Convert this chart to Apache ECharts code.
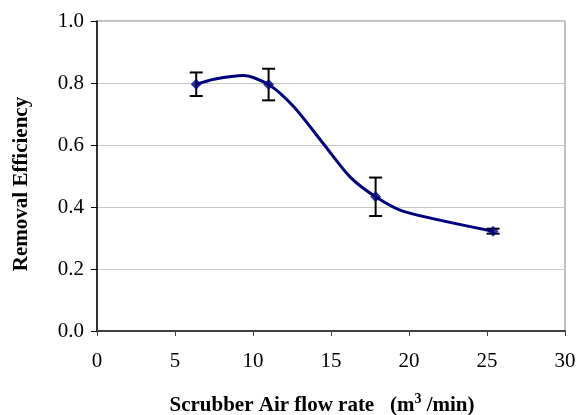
<!DOCTYPE html>
<html>
<head>
<meta charset="utf-8">
<script src="https://cdn.jsdelivr.net/npm/echarts@6/dist/echarts.min.js"></script>
<style>html,body{margin:0;padding:0;background:#fff;}#c{width:584px;height:415px;}</style>
</head>
<body>
<div id="c"></div>
<script>
// Measured points with error bars
const measX = [6.36, 11.0, 17.86, 25.39];
const measY = [0.796, 0.795, 0.433, 0.322];
const measErr = [0.038, 0.051, 0.062, 0.008];
// Curve drawn through the data
const curveX = [6.36, 7.5, 9.4, 11.0, 12.6, 14.5, 16.2, 17.86, 19.65, 25.39];
const curveY = [0.796, 0.812, 0.824, 0.795, 0.724, 0.605, 0.498, 0.433, 0.386, 0.322];
// Axis ticks
const xTicks = {min: 0, max: 30, interval: 5};
const yTicks = {min: 0, max: 1, interval: 0.2};

const font = '"Liberation Serif", "Times New Roman", serif';
const chart = echarts.init(document.getElementById('c'));
chart.setOption({
  animation: false,
  grid: {left: 97, right: 19, top: 21, bottom: 84, show: true, borderColor: '#808080', borderWidth: 1,
         containLabel: false, outerBoundsMode: 'none'},
  xAxis: {
    type: 'value', min: xTicks.min, max: xTicks.max, interval: xTicks.interval,
    axisLine: {show: true, onZero: false, lineStyle: {color: '#404040', width: 2}},
    axisTick: {show: true, length: 5, lineStyle: {color: '#404040', width: 1}},
    axisLabel: {fontFamily: font, fontSize: 21, color: '#000', margin: 20},
    splitLine: {show: false},
    name: '{b|Scrubber Air flow rate   (m}{sup|3}{b| /min)}',
    nameLocation: 'middle', nameGap: 61,
    nameTextStyle: {padding: [0, 18, 0, 0],
      rich: {
        b: {fontFamily: font, fontSize: 21, fontWeight: 'bold', color: '#000'},
        sup: {fontFamily: font, fontSize: 14, fontWeight: 'bold', color: '#000', padding: [0, 0, 13, 0]}
      }}
  },
  yAxis: {
    type: 'value', min: yTicks.min, max: yTicks.max, interval: yTicks.interval,
    axisLine: {show: true, lineStyle: {color: '#000', width: 1.5}},
    axisTick: {show: true, length: 6, lineStyle: {color: '#000', width: 1}},
    axisLabel: {fontFamily: font, fontSize: 21, color: '#000', margin: 13, formatter: v => v.toFixed(1)},
    splitLine: {show: true, lineStyle: {color: '#c8c8c8', width: 1}},
    name: 'Removal Efficiency', nameLocation: 'middle', nameGap: 65,
    nameTextStyle: {fontFamily: font, fontSize: 21, fontWeight: 'bold', color: '#000', padding: [0, 16, 0, 0]}
  },
  series: [
    {
      type: 'line', data: curveX.map((x, i) => [x, curveY[i]]), smooth: 0.25,
      showSymbol: false, lineStyle: {color: '#000080', width: 3}, z: 3
    },
    {
      type: 'custom', z: 4,
      data: measX.map((x, i) => [x, measY[i], measErr[i]]),
      renderItem: function (params, api) {
        const x = api.value(0), y = api.value(1), e = api.value(2);
        const top = api.coord([x, y + e]);
        const bot = api.coord([x, y - e]);
        const hw = 6.5;
        const st = {stroke: '#000', lineWidth: 2};
        return {type: 'group', children: [
          {type: 'line', shape: {x1: top[0], y1: top[1], x2: bot[0], y2: bot[1]}, style: st},
          {type: 'line', shape: {x1: top[0] - hw, y1: top[1], x2: top[0] + hw, y2: top[1]}, style: st},
          {type: 'line', shape: {x1: bot[0] - hw, y1: bot[1], x2: bot[0] + hw, y2: bot[1]}, style: st}
        ]};
      }
    },
    {
      type: 'scatter', z: 5, data: measX.map((x, i) => [x, measY[i]]),
      symbol: 'diamond', symbolSize: 11, itemStyle: {color: '#000080'}
    }
  ]
});
</script>
</body>
</html>
